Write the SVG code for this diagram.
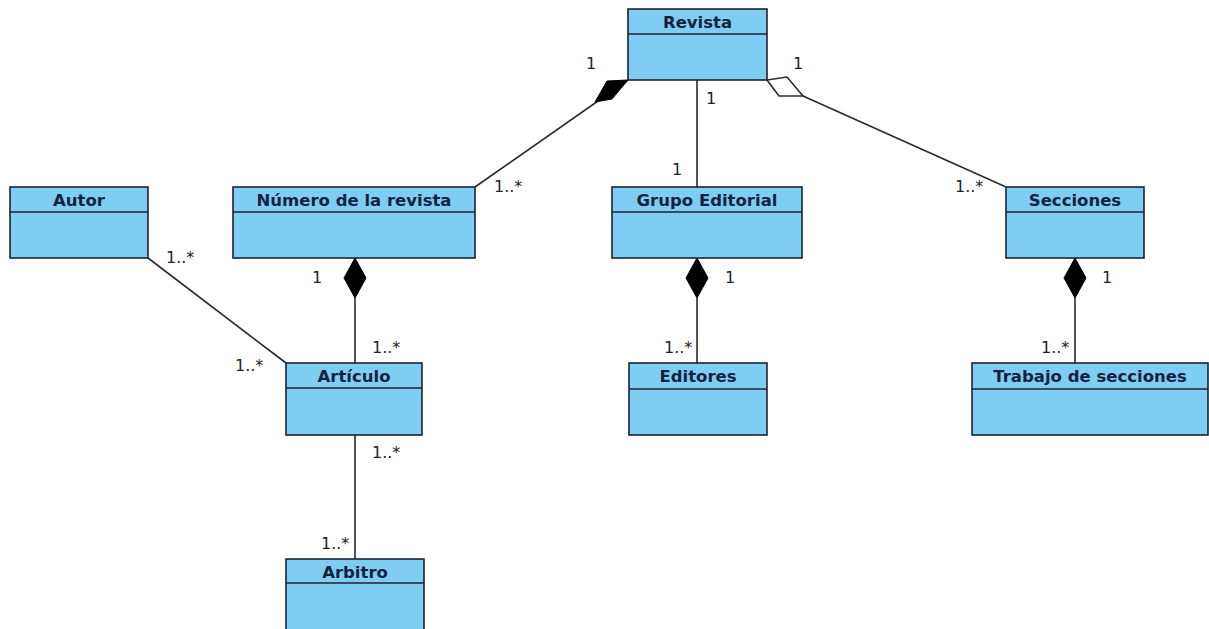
<svg xmlns="http://www.w3.org/2000/svg" width="1209" height="629" viewBox="0 0 1209 629">
  <style>
    .box { fill: #7fcdf3; stroke: #1c2330; stroke-width: 1.6; }
    .sep { stroke: #1c2330; stroke-width: 1.6; }
    .name { font-family: "DejaVu Sans", sans-serif; font-weight: bold; font-size: 16.5px; fill: #13233f; text-anchor: middle; }
    .edge { stroke: #2a2a2a; stroke-width: 1.6; fill: none; }
    .comp { fill: #000; stroke: #000; stroke-width: 1; }
    .aggr { fill: #fff; stroke: #2a2a2a; stroke-width: 1.6; }
    .mult { font-family: "DejaVu Sans", sans-serif; font-size: 16px; fill: #222; }
  </style>
  <rect width="1209" height="629" fill="#ffffff"/>

  <!-- associations -->
  <g id="connectors">
    <!-- Revista <>- Numero (composition) -->
    <line class="edge" x1="628" y1="80" x2="475" y2="187"/>
    <polygon class="comp" points="628,80 607,81 595,102 612,99"/>
    <!-- Revista - Grupo Editorial -->
    <line class="edge" x1="697" y1="80" x2="697" y2="187"/>
    <!-- Revista <>- Secciones (aggregation) -->
    <line class="edge" x1="803" y1="96" x2="1006" y2="187"/>
    <polygon class="aggr" points="767,80 787,77 803,96 779,96"/>
    <!-- Numero <>- Articulo -->
    <line class="edge" x1="355" y1="298" x2="355" y2="363"/>
    <polygon class="comp" points="355,258 366,278 355,298 344,278"/>
    <!-- Autor - Articulo -->
    <line class="edge" x1="148" y1="258" x2="286" y2="363"/>
    <!-- Articulo - Arbitro -->
    <line class="edge" x1="355" y1="435" x2="355" y2="559"/>
    <!-- Grupo Editorial <>- Editores -->
    <line class="edge" x1="697" y1="298" x2="697" y2="363"/>
    <polygon class="comp" points="697,258 708,278 697,298 686,278"/>
    <!-- Secciones <>- Trabajo de secciones -->
    <line class="edge" x1="1075" y1="298" x2="1075" y2="363"/>
    <polygon class="comp" points="1075,258 1086,278 1075,298 1064,278"/>

    <!-- multiplicities -->
    <text class="mult" x="586" y="69">1</text>
    <text class="mult" x="494" y="192">1..*</text>
    <text class="mult" x="706" y="104">1</text>
    <text class="mult" x="672" y="175">1</text>
    <text class="mult" x="793" y="69">1</text>
    <text class="mult" x="955" y="192">1..*</text>
    <text class="mult" x="166" y="263">1..*</text>
    <text class="mult" x="235" y="371">1..*</text>
    <text class="mult" x="312" y="283">1</text>
    <text class="mult" x="372" y="353">1..*</text>
    <text class="mult" x="372" y="458">1..*</text>
    <text class="mult" x="321" y="549">1..*</text>
    <text class="mult" x="725" y="283">1</text>
    <text class="mult" x="664" y="353">1..*</text>
    <text class="mult" x="1102" y="283">1</text>
    <text class="mult" x="1041" y="353">1..*</text>
  </g>

  <g id="revista">
    <rect class="box" x="628" y="9" width="139" height="71"/>
    <line class="sep" x1="628" y1="34" x2="767" y2="34"/>
    <text class="name" x="697.5" y="28">Revista</text>
  </g>
  <g id="autor">
    <rect class="box" x="10" y="187" width="138" height="71"/>
    <line class="sep" x1="10" y1="212" x2="148" y2="212"/>
    <text class="name" x="79" y="206">Autor</text>
  </g>
  <g id="numero">
    <rect class="box" x="233" y="187" width="242" height="71"/>
    <line class="sep" x1="233" y1="212" x2="475" y2="212"/>
    <text class="name" x="354" y="206">Número de la revista</text>
  </g>
  <g id="grupo-editorial">
    <rect class="box" x="612" y="187" width="190" height="71"/>
    <line class="sep" x1="612" y1="212" x2="802" y2="212"/>
    <text class="name" x="707" y="206">Grupo Editorial</text>
  </g>
  <g id="secciones">
    <rect class="box" x="1006" y="187" width="138" height="71"/>
    <line class="sep" x1="1006" y1="212" x2="1144" y2="212"/>
    <text class="name" x="1075" y="206">Secciones</text>
  </g>
  <g id="articulo">
    <rect class="box" x="286" y="363" width="136" height="72"/>
    <line class="sep" x1="286" y1="388" x2="422" y2="388"/>
    <text class="name" x="354" y="382">Artículo</text>
  </g>
  <g id="editores">
    <rect class="box" x="629" y="363" width="138" height="72"/>
    <line class="sep" x1="629" y1="389" x2="767" y2="389"/>
    <text class="name" x="698" y="382">Editores</text>
  </g>
  <g id="trabajo-secciones">
    <rect class="box" x="972" y="363" width="236" height="72"/>
    <line class="sep" x1="972" y1="389" x2="1208" y2="389"/>
    <text class="name" x="1090" y="382">Trabajo de secciones</text>
  </g>
  <g id="arbitro">
    <rect class="box" x="286" y="559" width="138" height="75"/>
    <line class="sep" x1="286" y1="583" x2="424" y2="583"/>
    <text class="name" x="355" y="578">Arbitro</text>
  </g>
</svg>
